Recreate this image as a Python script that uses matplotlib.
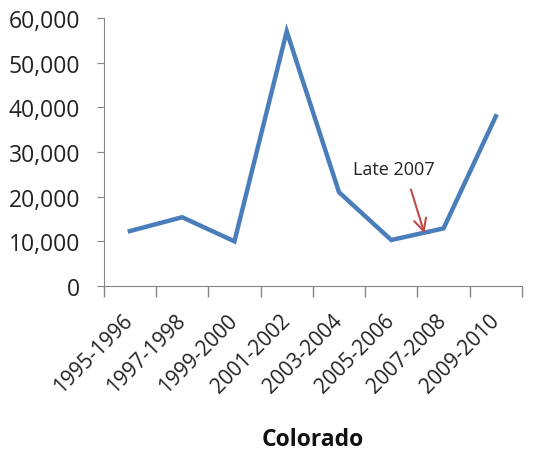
import matplotlib.pyplot as plt
import numpy as np
from matplotlib.ticker import FuncFormatter

seasons = ['1995-1996', '1997-1998', '1999-2000', '2001-2002',
           '2003-2004', '2005-2006', '2007-2008', '2009-2010']
values = [12300, 15400, 10000, 57000, 21000, 10300, 12900, 38000]

plt.rcParams['font.family'] = ['Open Sans', 'DejaVu Sans']

fig = plt.figure(figsize=(5.46, 4.52), dpi=100)
ax = fig.add_axes([0.19, 0.365, 0.766, 0.593])

x = np.arange(len(seasons))
ax.plot(x, values, color='#4A7EBB', linewidth=3.2, solid_joinstyle='miter')

ax.set_xlim(-0.5, len(seasons) - 0.5)
ax.set_ylim(0, 60000)
ax.set_yticks(np.arange(0, 60001, 10000))
ax.yaxis.set_major_formatter(FuncFormatter(lambda v, p: f'{int(v):,}'))

ax.set_xticks(x)
ax.set_xticklabels(seasons, rotation=45, ha='right', va='center',
                   rotation_mode='anchor')
ax.set_xticks(np.arange(-0.5, len(seasons), 1), minor=True)
ax.tick_params(axis='x', which='major', length=0, pad=22, labelsize=15, colors='#222222')
ax.tick_params(axis='x', which='minor', length=8, color='#868686', width=1)
ax.tick_params(axis='y', length=5, pad=12, color='#868686', labelsize=16.5,
               labelcolor='#222222')

for s in ['top', 'right']:
    ax.spines[s].set_visible(False)
for s in ['left', 'bottom']:
    ax.spines[s].set_color('#868686')

ax.set_xlabel('Colorado', fontsize=16.5, fontweight='bold', labelpad=22, color='#111111')

ax.annotate('', xy=(5.65, 11200), xytext=(5.36, 22200),
            arrowprops=dict(arrowstyle='->', color='#BE4B48', lw=1.5,
                            mutation_scale=22))
ax.text(5.04, 26200, 'Late 2007', fontsize=13, ha='center', va='center',
        color='#222222')

fig.savefig('out.png', dpi=100)
